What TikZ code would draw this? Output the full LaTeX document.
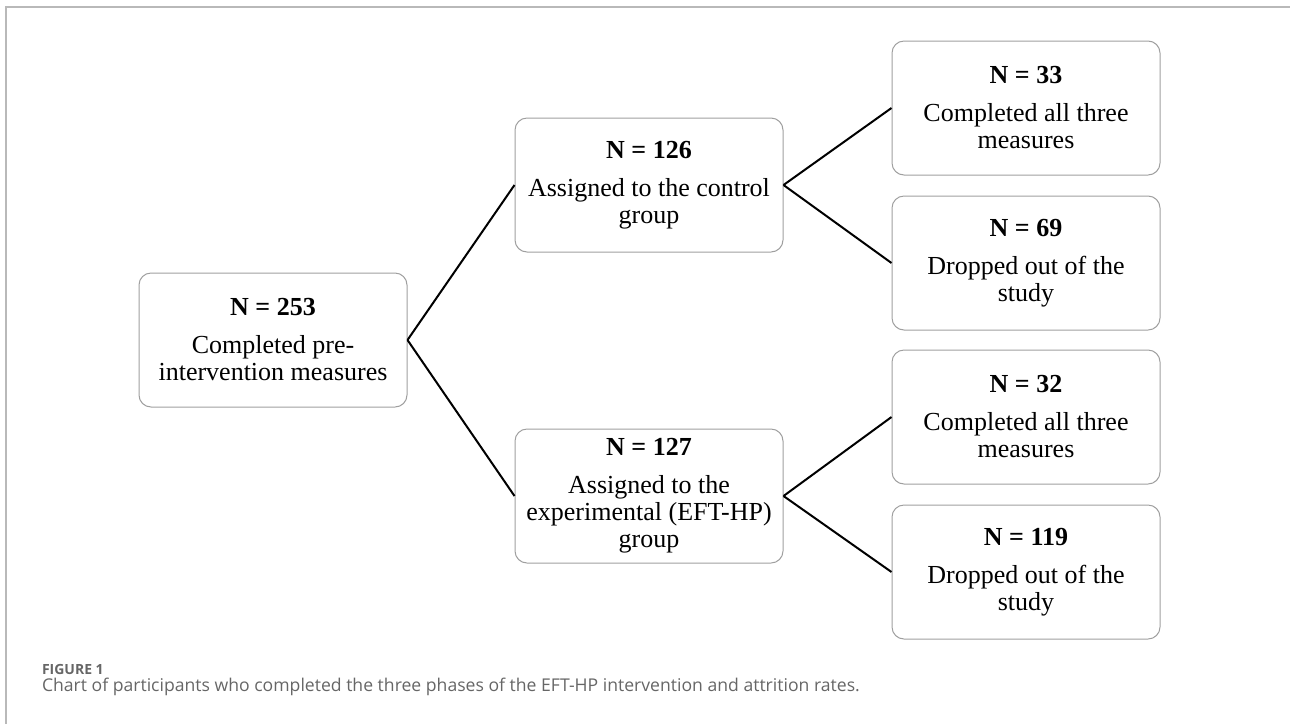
\documentclass[tikz,border=0pt]{standalone}
\usepackage{fontspec}
\setmainfont{Liberation Serif}
\newfontfamily\capfont{Open Sans}
\usepackage{tikz}

\begin{document}
\begin{tikzpicture}[x = 1pt, y = -1pt, line width = 2pt,
    box/.style = {draw = gray!75, line width = 1pt, rounded corners = 12pt,
      minimum width = 268pt, minimum height = 134pt, align = center,
      inner sep = 0pt, font = \fontsize{26}{27}\selectfont}]
\useasboundingbox (0,0) rectangle (1290,724);
\draw[gray!55, line width = 1.2pt] (6,724) -- (6,7) -- (1290,7);
\draw (273,340) node[box](a1){\textbf{N = 253}\\[11pt]Completed pre-\\intervention measures}
    (649,185) node[box](a2){\textbf{N = 126}\\[11pt]Assigned to the control\\group}
    (649,496) node[box](a3){\textbf{N = 127}\\[11pt]Assigned to the\\experimental (EFT-HP)\\group}
    (1026,108) node[box](a4){\textbf{N = 33}\\[11pt]Completed all three\\measures}
    (1026,263) node[box](a5){\textbf{N = 69}\\[11pt]Dropped out of the\\study}
    (1026,417) node[box](a6){\textbf{N = 32}\\[11pt]Completed all three\\measures}
    (1026,572) node[box](a7){\textbf{N = 119}\\[11pt]Dropped out of the\\study};
    \draw [-] (a1.east) -- (a2.west);
    \draw [-] (a1.east) -- (a3.west);
    \draw [-] (a2.east) -- (a4.west);
    \draw [-] (a2.east) -- (a5.west);
    \draw [-] (a3.east) -- (a6.west);
    \draw [-] (a3.east) -- (a7.west);
\node[anchor = base west, inner sep = 0pt, text = black!60,
    font = \capfont\bfseries\fontsize{14}{16}\selectfont] (f1) at (41,674) {FIGURE 1};
\node[anchor = base west, inner sep = 0pt, text = black!60,
    font = \capfont\fontsize{17.6}{19}\selectfont] (f2) at (41,691)
    {Chart of participants who completed the three phases of the EFT-HP intervention and attrition rates.};
\end{tikzpicture}
\end{document}
